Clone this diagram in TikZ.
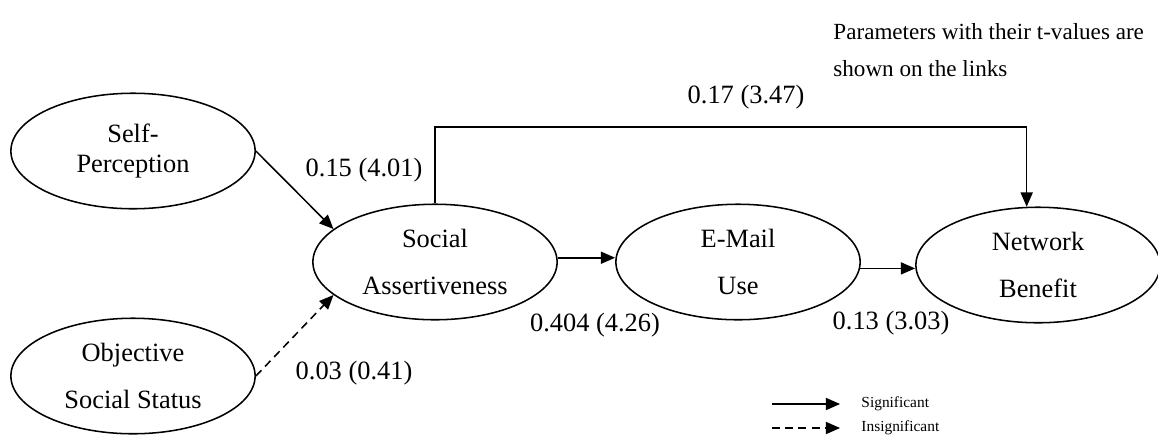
\documentclass[tikz,border=0pt]{standalone}
\usepackage{fontspec}
\setmainfont{Liberation Serif}
\usetikzlibrary{shapes.geometric,arrows.meta}

\tikzstyle{construct}=[ellipse,draw,line width=0.7pt,minimum width=111pt,minimum height=52.5pt,inner sep=0pt,align=center,font=\fontsize{12}{14}\selectfont]
\tikzstyle{link} = [draw,line width=0.7pt,-{Triangle[length=6.5pt,width=5.5pt]}]
\tikzstyle{weaklink} = [link,dash pattern=on 3.6pt off 2.4pt]
\tikzstyle{weight} = [inner sep=0pt,font=\fontsize{12}{14}\selectfont]
\tikzstyle{legendtext} = [inner sep=0pt,anchor=west,font=\fontsize{7}{8}\selectfont]

\begin{document}
\begin{tikzpicture}[x=0.4545pt,y=-0.4545pt]
			\useasboundingbox (0,0) rectangle (1158,438);
			\node[construct] (self) at (133,151) {Self-\\Perception};
			\node[construct] (obj) at (133,376) {Objective\\[7.4pt]Social Status};
			\node[construct] (soc) at (435,262) {Social\\[7.4pt]Assertiveness};
			\node[construct] (email) at (738,262) {E-Mail\\[7.4pt]Use};
			\node[construct] (net) at (1038,265) {Network\\[7.4pt]Benefit};
			% Path weights
			\node[weight] (w1) at (364,170) {0.15 (4.01)};
			\node[weight] (w2) at (354,373) {0.03 (0.41)};
			\node[weight] (w3) at (746,97) {0.17 (3.47)};
			\node[weight] (w4) at (595,325) {0.404 (4.26)};
			\node[weight] (w5) at (891,323) {0.13 (3.03)};
			\node[inner sep=0pt,anchor=west,align=left,font=\fontsize{10.5}{17}\selectfont] (note) at (833,50) {Parameters with their t-values are\\shown on the links};
			% Connect constructs with links
			\path[link] (self.east) -- (soc.162);
			\path[weaklink] (obj.east) -- (soc.198);
			\foreach \source/ \dest/ \ang in {soc/email/2, email/net/-3}
				\path[link] (\source.\ang) -- (\dest.west |- \source.\ang);
			\coordinate (top) at (0,127);
			\path[link] (soc.north) -- (soc.north |- top) -| (net.101);
			% Legend
			\node[legendtext] (sig) at (861,404) {Significant};
			\node[legendtext] (insig) at (861,428) {Insignificant};
			\coordinate (sigstart) at (772,404);
			\coordinate (insigstart) at (772,428);
			\path[link] (sigstart) -- ([xshift=-9.5pt]sig.west);
			\path[weaklink] (insigstart) -- ([xshift=-9.5pt]insig.west);
		\end{tikzpicture}
\end{document}
